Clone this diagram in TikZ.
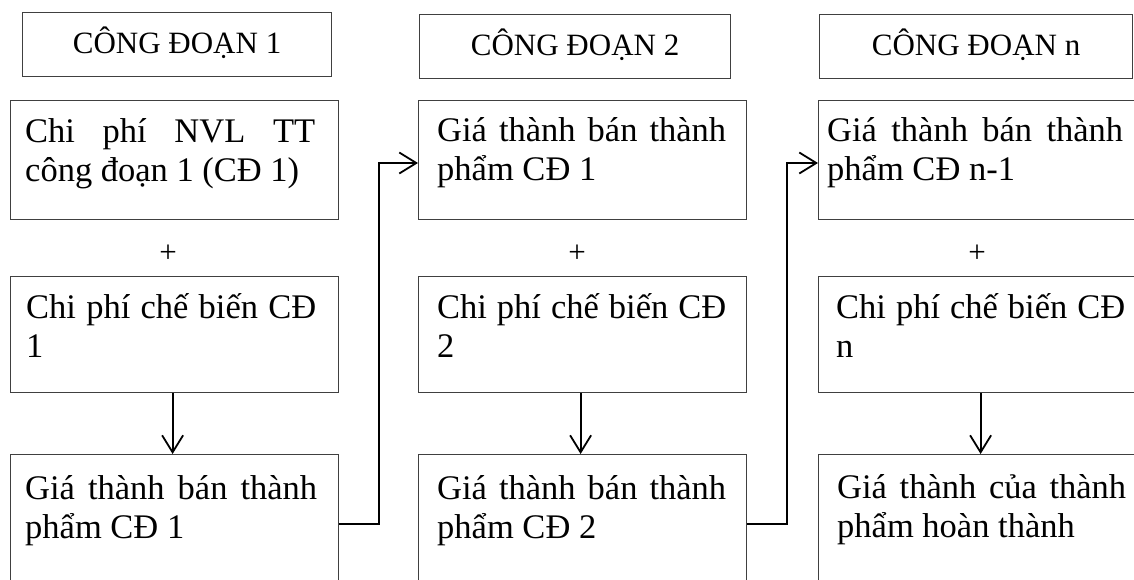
\documentclass[tikz,border=0pt]{standalone}
\usepackage{fontspec}
\setmainfont{Liberation Serif}
\usetikzlibrary{arrows.meta}
\hyphenpenalty=10000
\exhyphenpenalty=10000
\tolerance=9999
\definecolor{boxgray}{HTML}{404040}
\newcommand\headfont{\fontsize{31pt}{36pt}\selectfont}
\newcommand\bodyfont{\fontsize{34.5pt}{39.5pt}\selectfont}
\newcommand\boxtext[2]{\parbox[t]{#1}{#2}}
\begin{document}
\begin{tikzpicture}[x=1pt,y=-1pt,
  head/.style={draw=boxgray, line width=1.2pt, inner sep=0pt, anchor=north west,
    minimum height=64pt, text height=41pt, text depth=23pt, font=\headfont},
  cellbox/.style={draw=boxgray, line width=1.2pt, inner sep=0pt, anchor=north west,
    minimum width=328pt},
  txt/.style={inner sep=0pt, anchor=base west, font=\bodyfont},
  plus/.style={inner sep=0pt, font=\headfont},
  conn/.style={draw=black, line width=1.8pt},
  arr/.style={conn, -{Straight Barb[length=17pt,width=21pt]}}]
\useasboundingbox (0,0) rectangle (1134,579);
\fill[white] (0,0) rectangle (1134,579);
\clip (0,0) rectangle (1134,579);

% stage headers
\node[head, minimum width=309pt] (h1) at (22,12) {CÔNG ĐOẠN 1};
\node[head, minimum width=311pt] (h2) at (419,14) {CÔNG ĐOẠN 2};
\node[head, minimum width=313pt] (h3) at (819,14) {CÔNG ĐOẠN n};

% boxes: column 1
\node[cellbox, minimum height=119pt] (c1r1) at (10,100) {};
\node[cellbox, minimum height=116pt] (c1r2) at (10,276) {};
\node[cellbox, minimum height=140pt] (c1r3) at (10,454) {};
% boxes: column 2
\node[cellbox, minimum height=119pt] (c2r1) at (418,100) {};
\node[cellbox, minimum height=116pt] (c2r2) at (418,276) {};
\node[cellbox, minimum height=140pt] (c2r3) at (418,454) {};
% boxes: column n
\node[cellbox, minimum height=119pt] (c3r1) at (818,100) {};
\node[cellbox, minimum height=116pt] (c3r2) at (818,276) {};
\node[cellbox, minimum height=140pt] (c3r3) at (818,454) {};

% box texts
\node[txt] (t1r1) at (25,142) {\boxtext{290pt}{Chi phí NVL TT công đoạn 1 (CĐ 1)}};
\node[txt] (t1r2) at (26,318) {\boxtext{290pt}{Chi phí chế biến CĐ 1}};
\node[txt] (t1r3) at (25,499) {\boxtext{292pt}{Giá thành bán thành phẩm CĐ 1}};
\node[txt] (t2r1) at (437,141) {\boxtext{289pt}{Giá thành bán thành phẩm CĐ 1}};
\node[txt] (t2r2) at (437,318) {\boxtext{289pt}{Chi phí chế biến CĐ 2}};
\node[txt] (t2r3) at (437,499) {\boxtext{289pt}{Giá thành bán thành phẩm CĐ 2}};
\node[txt] (t3r1) at (827,141) {\boxtext{296pt}{Giá thành bán thành phẩm CĐ n-1}};
\node[txt] (t3r2) at (836,318) {\boxtext{289pt}{Chi phí chế biến CĐ n}};
\node[txt] (t3r3) at (837,498) {\boxtext{289pt}{Giá thành của thành phẩm hoàn thành}};

% plus signs between the first two boxes
\node[plus] (p1) at (168,254) {+};
\node[plus] (p2) at (577,254) {+};
\node[plus] (p3) at (977,254) {+};

% downward arrows
\draw[arr] ([xshift=-2pt]c1r2.south) -- ([xshift=-2pt]c1r3.north);
\draw[arr] ([xshift=-2pt]c2r2.south) -- ([xshift=-2pt]c2r3.north);
\draw[arr] ([xshift=-2pt]c3r2.south) -- ([xshift=-2pt]c3r3.north);

% carry-over to the next stage
\draw[arr] ([yshift=-70pt]c1r3.north east) -- ++(40pt,0) |- ([yshift=-63pt]c2r1.north west);
\draw[arr] ([yshift=-70pt]c2r3.north east) -- ++(40pt,0) |- ([yshift=-63pt]c3r1.north west);
\end{tikzpicture}
\end{document}
